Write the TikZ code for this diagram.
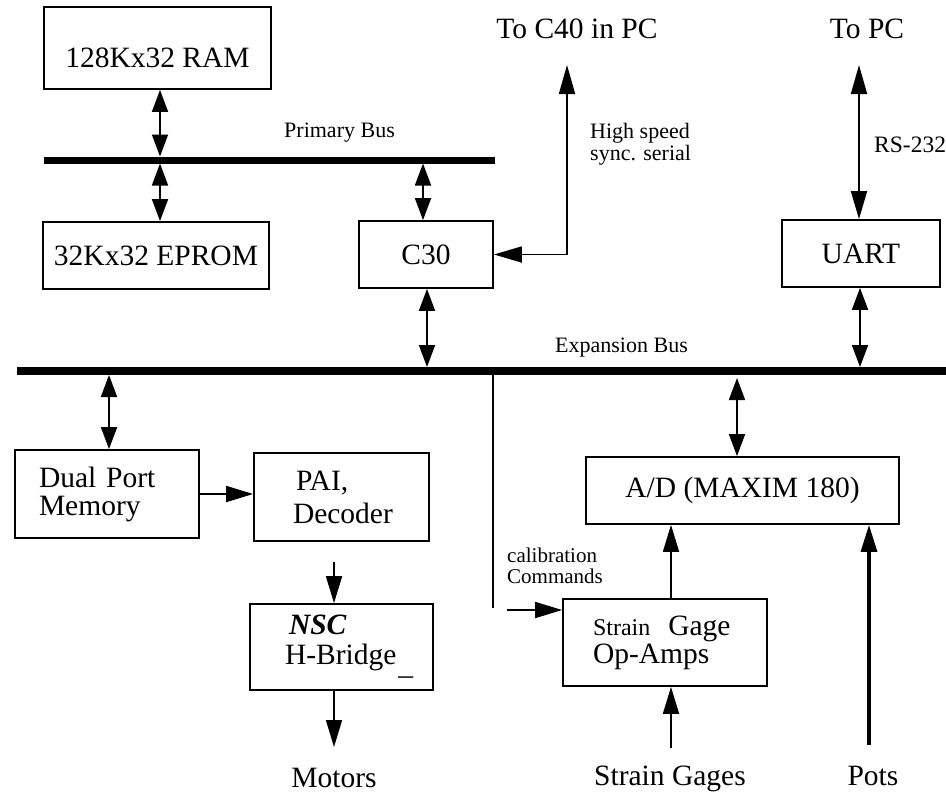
\documentclass[tikz,border=0pt]{standalone}
\usepackage{fontspec}
\setmainfont{Liberation Serif}
\usetikzlibrary{arrows.meta}
\newcommand\bigf{\fontsize{29.5}{30}\selectfont}
\newcommand\smf{\fontsize{22}{22}\selectfont}
\begin{document}
\begin{tikzpicture}[x=1pt,y=-1pt,
  box/.style={draw, line width=1.8pt, inner sep=0pt, font=\bigf},
  busline/.style={line width=8pt},
  conn/.style={line width=1.8pt},
  dbl/.style={line width=1.8pt, {Triangle[length=22pt,width=16pt]}-{Triangle[length=22pt,width=16pt]}},
  lng/.style={line width=1.8pt, {Triangle[length=29pt,width=16pt]}-{Triangle[length=28pt,width=16pt]}},
  sgl/.style={line width=1.8pt, -{Triangle[length=27pt,width=16pt]}},
  lbl/.style={inner sep=0pt, font=\bigf, anchor=base},
  slbl/.style={inner sep=0pt, font=\smf, anchor=base west}
]
\useasboundingbox (0,0) rectangle (946,793);

% buses
\coordinate (pbL) at (44,160);
\coordinate (pbR) at (495,160);
\coordinate (ebL) at (17,371);
\coordinate (ebR) at (946,371);
\draw[line width=7pt] (pbL) -- (pbR);
\draw[busline] (ebL) -- (ebR);

% boxes
\node[box, minimum width=227pt, minimum height=82pt, text height=38pt, text depth=0pt] (RAM) at (157.5,48) {128Kx32 RAM};
\node[box, minimum width=226pt, minimum height=67pt] (EP) at (156,255.5) {32Kx32 EPROM};
\node[box, minimum width=134pt, minimum height=67pt] (C30) at (426,254.5) {C30};
\node[box, minimum width=158pt, minimum height=67pt] (UART) at (861,253.5) {UART};
\node[box, minimum width=184pt, minimum height=88pt, text width=136pt, inner xsep=24pt, align=left,
      font=\fontsize{29.5}{28}\selectfont] (DPM) at (107,494) {Dual Port\\Memory};
\node[box, minimum width=175pt, minimum height=88pt, text width=97pt, inner xsep=39pt, align=left,
      font=\fontsize{29.5}{33}\selectfont] (PAI) at (341.5,497) {\hspace*{3pt}PAI,\\Decoder};
\node[box, minimum width=183pt, minimum height=86pt, text width=113pt, inner xsep=35pt, align=left,
      font=\fontsize{29.5}{30}\selectfont] (NSC) at (341.5,647)
      {\hspace*{4pt}{\bfseries\itshape NSC}\\H-Bridge\rlap{\hspace{2pt}\raisebox{-10pt}{\_}}};
\node[box, minimum width=313pt, minimum height=67pt] (AD) at (742.5,490.5) {A/D (MAXIM 180)};
\node[box, minimum width=204pt, minimum height=87pt, text width=144pt, inner xsep=30pt, align=left,
      font=\fontsize{29.5}{28}\selectfont] (SG) at (665,642.5)
      {{\fontsize{24}{28}\selectfont Strain}\hspace{18pt}Gage\\Op-Amps};

% labels
\node[lbl] (tc40) at (577,38) {To C40 in PC};
\node[lbl] (tpc) at (867,38) {To PC};
\node[slbl] (pbus) at (284,137) {Primary Bus};
\node[slbl] (ebus) at (555,352) {Expansion Bus};
\node[slbl, font=\fontsize{23.5}{23.5}\selectfont] (rs) at (874,152) {RS-232};
\node[inner sep=0pt, font=\fontsize{22}{22}\selectfont, align=left, anchor=north west] (hs) at (590,123.5) {High speed\\sync. serial};
\node[inner sep=0pt, font=\fontsize{21}{21}\selectfont, align=left, anchor=north west] (cal) at (507,547.5) {calibration\\Commands};
\node[lbl] (motors) at (334,787) {Motors};
\node[lbl] (sgages) at (670,785) {Strain Gages};
\node[lbl] (pots) at (873,785) {Pots};

% connector coordinates
\coordinate (ramB) at (160,156.5);
\coordinate (epB) at (160,163.5);
\coordinate (c30B) at (423,163.5);
\coordinate (c30E) at (427,367);
\coordinate (uartE) at (860,367);
\coordinate (dpmE) at (109,375);
\coordinate (adE) at (737,378);
\coordinate (calE) at (493,375);
\coordinate (calEnd) at (493,608);
\coordinate (calSt) at (507,610);
\coordinate (c40) at (567,65);
\coordinate (pc) at (859,65);
\coordinate (paiOut) at (334,562);
\coordinate (mot) at (334,747);
\coordinate (sgx) at (671,600);
\coordinate (sgIn) at (671,748);
\coordinate (potIn) at (869,745);

% connectors
\draw[dbl] (RAM.south -| ramB) -- (ramB);
\draw[dbl] (epB) -- (EP.north -| epB);
\draw[dbl] (c30B) -- (C30.north -| c30B);
\draw[dbl] (C30.south -| c30E) -- (c30E);
\draw[lng] (c40) |- (C30.east);
\draw[lng] (pc) -- (UART.north -| pc);
\draw[dbl] (UART.south -| uartE) -- (uartE);
\draw[dbl] (dpmE) -- (DPM.north -| dpmE);
\draw[dbl] (adE) -- (AD.north -| adE);
\draw[conn, line width=1.5pt] (calE) -- (calEnd);
\draw[sgl] (calSt) -- (SG.west |- calSt);
\draw[sgl] (DPM.east) -- (PAI.west |- DPM.east);
\draw[sgl] (paiOut) -- (NSC.north -| paiOut);
\draw[sgl] (NSC.south -| mot) -- (mot);
\draw[sgl] (SG.north -| sgx) -- (AD.south -| sgx);
\draw[sgl] (sgIn) -- (SG.south -| sgIn);
\draw[sgl, line width=3.2pt] (potIn) -- (AD.south -| potIn);
\end{tikzpicture}
\end{document}
